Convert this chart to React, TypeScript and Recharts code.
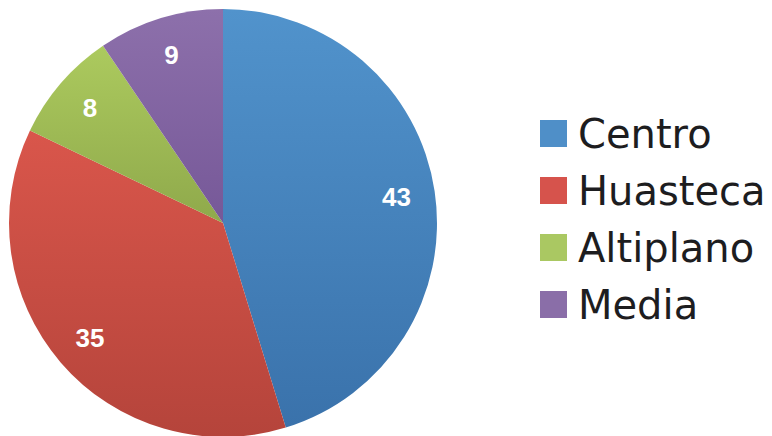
import { PieChart, Pie, Cell, Legend } from "recharts";

const regions = ["Centro", "Huasteca", "Altiplano", "Media"];
const counts = [43, 35, 8, 9];
const topColors = ["#5193cc", "#d9564b", "#acca5e", "#8d70ab"];
const bottomColors = ["#3a72ab", "#b5443b", "#8fa94b", "#765898"];
const legendColors = ["#4f8fc8", "#d6534c", "#aac862", "#8a6ea8"];

const data = regions.map((name, i) => ({ name, value: counts[i] }));

const RAD = Math.PI / 180;

const renderLabel = (props: any) => {
  const { cx, cy, midAngle, outerRadius, value } = props;
  const r = outerRadius * 0.82;
  const x = cx + r * Math.cos(-midAngle * RAD);
  const y = cy + r * Math.sin(-midAngle * RAD);
  return (
    <text
      x={x}
      y={y}
      fill="#ffffff"
      textAnchor="middle"
      dominantBaseline="central"
      fontFamily="'Liberation Sans', Arial, sans-serif"
      fontWeight="bold"
      fontSize={26}
    >
      {value}
    </text>
  );
};

const renderLegend = () => (
  <div>
    {regions.map((name, i) => (
      <div key={name} style={{ display: "flex", alignItems: "center", height: 57 }}>
        <div style={{ width: 27, height: 27, background: legendColors[i], marginRight: 11 }} />
        <span style={{ fontFamily: "'DejaVu Sans', sans-serif", fontSize: 40, color: "#1d1d1f", lineHeight: "40px" }}>
          {name}
        </span>
      </div>
    ))}
  </div>
);

export default function App() {
  return (
    <div style={{ position: "absolute", left: 0, top: 0, width: 772, height: 436, background: "#fff" }}>
      <PieChart width={772} height={436} margin={{ top: 0, right: 0, bottom: 0, left: 0 }}>
        <defs>
          {regions.map((name, i) => (
            <linearGradient key={name} id={`grad${i}`} x1="0" y1="0" x2="0" y2="1">
              <stop offset="0%" stopColor={topColors[i]} />
              <stop offset="100%" stopColor={bottomColors[i]} />
            </linearGradient>
          ))}
        </defs>
        <Pie
          data={data}
          dataKey="value"
          nameKey="name"
          cx={223}
          cy={223}
          outerRadius={214}
          startAngle={90}
          endAngle={-270}
          stroke="none"
          label={renderLabel}
          labelLine={false}
          isAnimationActive={false}
        >
          {data.map((d, i) => (
            <Cell key={d.name} fill={`url(#grad${i})`} />
          ))}
        </Pie>
        <Legend
          content={renderLegend}
          layout="vertical"
          wrapperStyle={{ position: "absolute", left: 540, top: 105, width: 232 }}
        />
      </PieChart>
    </div>
  );
}
